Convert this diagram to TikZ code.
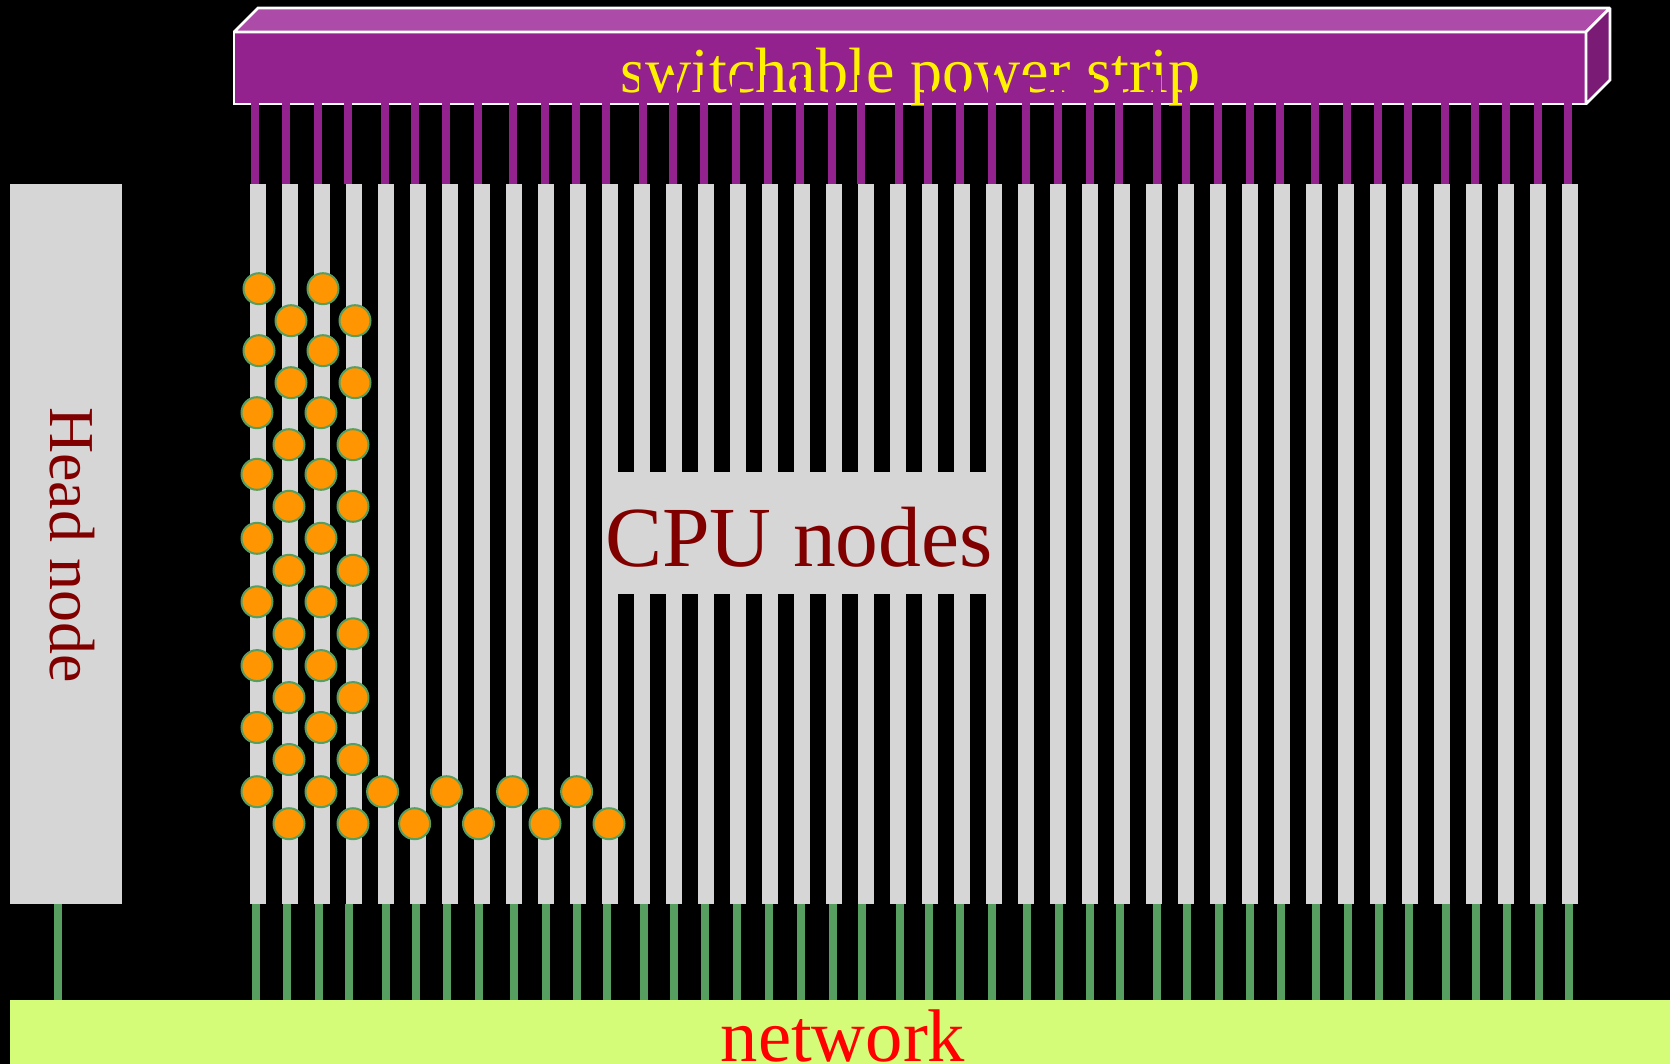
\documentclass[tikz,border=0pt]{standalone}
\usepackage{fontspec}
\setmainfont{Liberation Serif}
\usetikzlibrary{positioning}
\definecolor{stripfront}{HTML}{93228F}
\definecolor{striptop}{HTML}{AC4CA8}
\definecolor{stripside}{HTML}{7A1B76}
\definecolor{wiregreen}{HTML}{579E61}
\definecolor{boxgray}{HTML}{D6D6D6}
\definecolor{netgreen}{HTML}{D4FC79}
\definecolor{dotorange}{HTML}{FF9500}
\definecolor{labelred}{HTML}{800000}
\begin{document}
\begin{tikzpicture}[x=1pt,y=-1pt,node distance=32pt,
                    bar node/.style={rectangle,fill=boxgray,inner sep=0pt,outer sep=0pt,minimum width=16pt,minimum height=720pt},
                    gray node/.style={rectangle,fill=boxgray,inner sep=0pt,outer sep=0pt},
                    dot node/.style={circle,fill=dotorange,draw=wiregreen,line width=2pt,inner sep=0pt,minimum size=31pt},
                    strip face/.style={draw=white,line width=2.7pt,line join=miter,miter limit=2},
                    power wire/.style={stripfront,line width=8pt},
                    net wire/.style={wiregreen,line width=8pt},
                    text node/.style={inner sep=0pt,anchor=base west}]

  \fill[black] (0,0) rectangle (1670,1064);
  \useasboundingbox (0,0) rectangle (1670,1064);

  \node[gray node,minimum width=112pt,minimum height=720pt] (head) at (66,544) {};
  \node[rectangle,fill=netgreen,inner sep=0pt,outer sep=0pt,minimum width=1660pt,minimum height=64pt] (network) at (840,1032) {};
  \node[bar node] (bar1) at (258,544) {};
  \foreach \i [remember=\i as \prev (initially 1)] in {2,...,42}
    \node[bar node] (bar\i) [right of=bar\prev] {};
  \node[gray node,minimum width=400pt,minimum height=122pt] (cpu) at (802,533) {};

  \node[strip face,fill=stripfront,inner sep=0pt,outer sep=0pt,minimum width=1352pt,minimum height=72pt] (strip) at (910,68) {};
  \draw[strip face,fill=striptop] (strip.north west) -- ++(24,-24) -- ++(1352,0) -- (strip.north east) -- cycle;
  \draw[strip face,fill=stripside] (strip.north east) -- ++(24,-24) -- ++(0,72) -- (strip.south east) -- cycle;

  \node[text node,text=yellow,font=\fontsize{64}{70}\selectfont] (striplabel) at (620.5,93) {switchable power strip};
  \node[text node,text=labelred,font=\fontsize{85.6}{90}\selectfont] (cpulabel) at (605,566.5) {CPU nodes};
  \node[text node,text=red,font=\fontsize{74.6}{80}\selectfont] (netlabel) at (720.5,1061.5) {network};
  \node[text node,text=labelred,font=\fontsize{64}{70}\selectfont,rotate=-90] (headlabel) at (50,407) {Head node};

  \foreach \i/\xpos in {1/254.7,2/286.3,3/318,4/347.7,5/385,6/414.7,7/446,8/478,9/512.7,10/544.7,
                        11/576,12/605.7,13/643,14/672.8,15/703.8,16/736,17/768,18/800,19/831.7,20/861,
                        21/898.8,22/928,23/959.5,24/991.5,25/1026,26/1058,27/1089.5,28/1119,29/1156.5,30/1186,
                        31/1217.7,32/1249.5,33/1280,34/1315,35/1347,36/1378,37/1408,38/1445,39/1475,40/1506,
                        41/1538,42/1568} {
    \coordinate (plug\i) at (\xpos,75);
    \coordinate (tap\i) at (\xpos+.8,1000);
    \draw[power wire] (plug\i) -- (plug\i |- bar\i.north);
    \draw[net wire] (tap\i |- bar\i.south) -- (tap\i |- network.north);
  }
  \coordinate (headtap) at (58,1000);
  \draw[net wire] (headtap |- head.south) -- (headtap |- network.north);

  \foreach \r/\ypos/\xoff in {1/288.7/2,2/350.7/2,3/412.7/0,4/474.3/0,5/538.3/0,6/601.8/0,7/665.6/0,8/727.5/0,9/791.7/0} {
    \node[dot node] (dot\r a) at (257+\xoff,\ypos) {};
    \node[dot node] (dot\r b) at (289+\xoff,\ypos+32) {};
    \node[dot node] (dot\r c) at (321+\xoff,\ypos) {};
    \node[dot node] (dot\r d) at (353+\xoff,\ypos+32) {};
  }
  \foreach \n/\xpos/\ypos in {1/382.6/791.7,2/414.6/823.7,3/446.5/791.7,4/478.5/823.7,
                              5/512.6/791.7,6/545/823.7,7/576.6/791.7,8/609/823.7}
    \node[dot node] (tail\n) at (\xpos,\ypos) {};
\end{tikzpicture}
\end{document}
